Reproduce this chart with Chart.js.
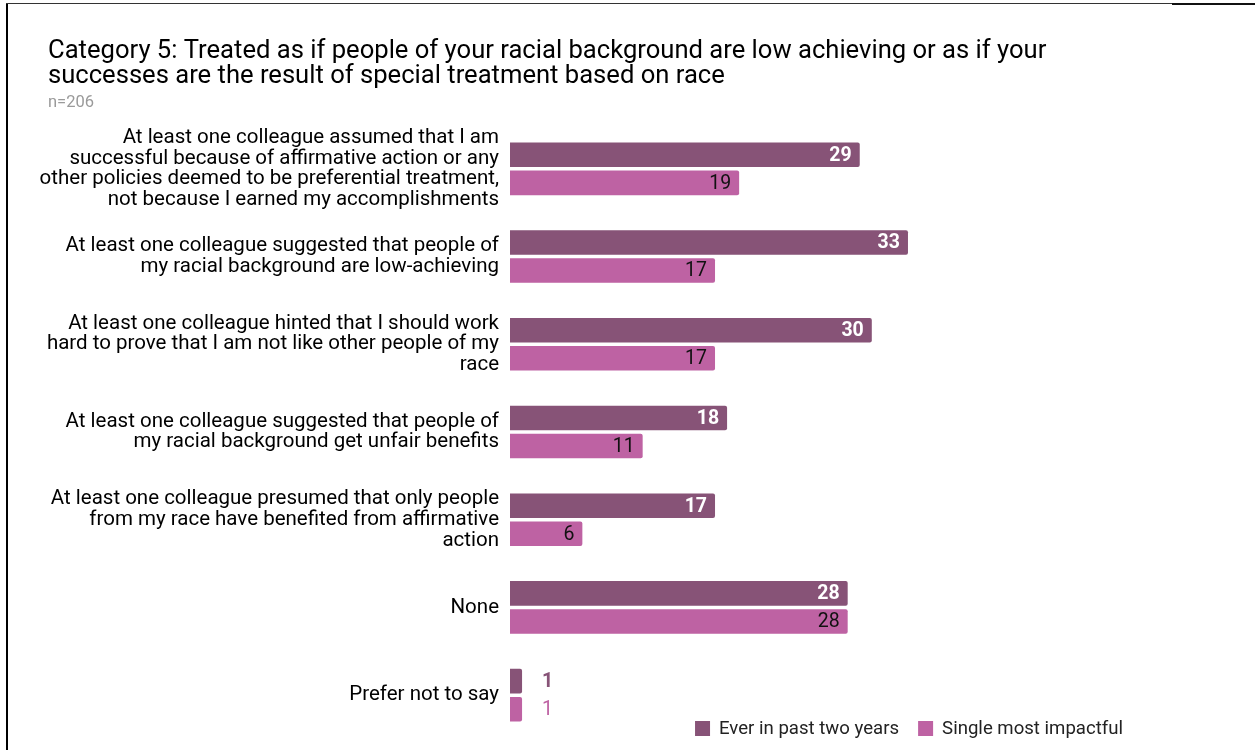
<!DOCTYPE html>
<html>
<head>
<meta charset="utf-8">
<script src="https://cdn.jsdelivr.net/npm/chart.js@4.4.1/dist/chart.umd.min.js"></script>
<style>
  html, body { margin: 0; padding: 0; background: #fff; }
  #wrap { position: relative; width: 1255px; height: 750px; overflow: hidden; }
  #frameLeft { position: absolute; left: 6px; top: 3px; width: 2px; height: 747px; background: #000; }
  #frameTop { position: absolute; left: 6px; top: 3px; width: 1166px; height: 1px; background: #333; }
  #frameTopRight { position: absolute; left: 1172px; top: 3px; width: 83px; height: 2px; background: #111; }
  canvas { position: absolute; left: 0; top: 0; }
</style>
</head>
<body>
<div id="wrap">
  <canvas id="chart" width="1255" height="750"></canvas>
  <div id="frameLeft"></div>
  <div id="frameTop"></div>
  <div id="frameTopRight"></div>
</div>
<script>
// Survey items (multi-line labels)
const categories = [
  ["At least one colleague assumed that I am", "successful because of affirmative action or any", "other policies deemed to be preferential treatment,", "not because I earned my accomplishments"],
  ["At least one colleague suggested that people of", "my racial background are low-achieving"],
  ["At least one colleague hinted that I should work", "hard to prove that I am not like other people of my", "race"],
  ["At least one colleague suggested that people of", "my racial background get unfair benefits"],
  ["At least one colleague presumed that only people", "from my race have benefited from affirmative", "action"],
  ["None"],
  ["Prefer not to say"]
];

const everInPastTwoYears = [29, 33, 30, 18, 17, 28, 1];
const singleMostImpactful = [19, 17, 17, 11, 6, 28, 1];

const seriesNames = ["Ever in past two years", "Single most impactful"];
const seriesColors = ["#875377", "#BE62A3"];

const titleLines = [
  "Category 5: Treated as if people of your racial background are low achieving or as if your",
  "successes are the result of special treatment based on race"
];
const subtitleText = "n=206";

const FONT = "Roboto, 'Noto Sans', sans-serif";

// Title and subtitle sit a little right of the axis-label column
const titleIndent = {
  id: 'titleIndent',
  afterLayout(chart) {
    chart.boxes.forEach(b => {
      if (b.position === 'top') b.left = 48;
    });
  }
};

// Value labels: inside the bar end when they fit, otherwise just past it
const valueLabels = {
  id: 'valueLabels',
  afterDatasetsDraw(chart) {
    const ctx = chart.ctx;
    chart.data.datasets.forEach((ds, di) => {
      const meta = chart.getDatasetMeta(di);
      const bold = di === 0;
      ctx.save();
      ctx.font = (bold ? 'bold ' : '') + '19.5px ' + FONT;
      ctx.textBaseline = 'middle';
      meta.data.forEach((bar, i) => {
        const v = ds.data[i];
        const txt = String(v);
        const w = ctx.measureText(txt).width;
        const barW = bar.x - bar.base;
        if (barW > w + 14) {
          ctx.textAlign = 'right';
          ctx.fillStyle = bold ? '#ffffff' : '#111111';
          ctx.fillText(txt, bar.x - 8, bar.y + 1);
        } else {
          ctx.textAlign = 'left';
          ctx.fillStyle = ds.backgroundColor;
          ctx.fillText(txt, bar.x + 20, bar.y + 1);
        }
      });
      ctx.restore();
    });
  }
};

// Legend in the lower right corner
const cornerLegend = {
  id: 'cornerLegend',
  afterDraw(chart) {
    const ctx = chart.ctx;
    ctx.save();
    ctx.font = '18.6px ' + FONT;
    ctx.textBaseline = 'middle';
    ctx.textAlign = 'left';
    const y = 728.5;
    const box = 15;
    const gapBoxText = 9;
    const gapItems = 19;
    const widths = chart.data.datasets.map(ds => box + gapBoxText + ctx.measureText(ds.label).width);
    const total = widths.reduce((a, b) => a + b, 0) + gapItems * (widths.length - 1);
    let x = 1123 - total;
    chart.data.datasets.forEach((ds, i) => {
      ctx.fillStyle = ds.backgroundColor;
      ctx.fillRect(x, y - box / 2, box, box);
      ctx.fillStyle = '#222222';
      ctx.fillText(ds.label, x + box + gapBoxText, y + 1);
      x += widths[i] + gapItems;
    });
    ctx.restore();
  }
};

new Chart(document.getElementById('chart'), {
  type: 'bar',
  data: {
    labels: categories,
    datasets: [
      { label: seriesNames[0], data: everInPastTwoYears, backgroundColor: seriesColors[0] },
      { label: seriesNames[1], data: singleMostImpactful, backgroundColor: seriesColors[1] }
    ]
  },
  options: {
    indexAxis: 'y',
    responsive: false,
    animation: false,
    devicePixelRatio: 1,
    layout: { padding: { top: 0, left: 30, right: 142, bottom: 11 } },
    datasets: {
      bar: { categoryPercentage: 0.64, barPercentage: 0.875, borderRadius: 2, borderSkipped: 'start' }
    },
    scales: {
      x: { display: false, min: 0, max: 50 },
      y: {
        grid: { display: false, drawTicks: false },
        border: { display: false },
        ticks: {
          color: '#000',
          padding: 11,
          font: { family: FONT, size: 20.5, lineHeight: 1.01 }
        },
        afterFit(scale) {
          scale.width = 480;
          scale.paddingTop = 0;
          scale.paddingBottom = 0;
        }
      }
    },
    plugins: {
      legend: { display: false },
      tooltip: { enabled: false },
      title: {
        display: true,
        text: titleLines,
        align: 'start',
        color: '#000',
        font: { family: FONT, size: 25.6, weight: 'normal', lineHeight: 0.98 },
        padding: { top: 39, bottom: 0 }
      },
      subtitle: {
        display: true,
        text: subtitleText,
        align: 'start',
        color: '#9a9a9a',
        font: { family: FONT, size: 16.5, weight: 'normal', lineHeight: 1.2 },
        padding: { top: 4, bottom: 12 }
      }
    }
  },
  plugins: [titleIndent, valueLabels, cornerLegend]
});
</script>
</body>
</html>
